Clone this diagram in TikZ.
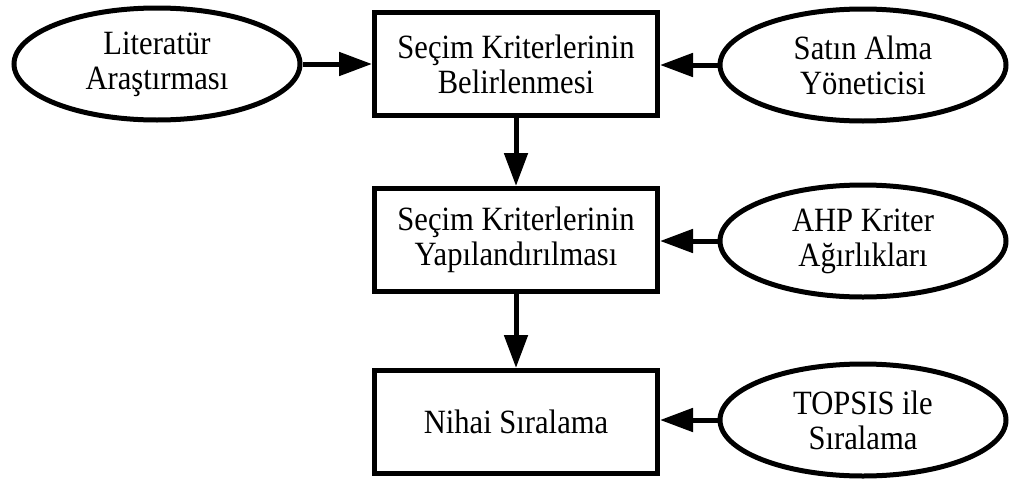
\documentclass[tikz,border=0pt]{standalone}
\usepackage{fontspec}
\setmainfont{Liberation Serif}[FakeStretch=0.9]
\usetikzlibrary{arrows.meta,shapes.geometric}
\begin{document}
\begin{tikzpicture}[x=1pt,y=-1pt,
  every node/.style={font=\fontsize{34}{35}\selectfont, align=center, inner sep=0pt},
  stepbox/.style={draw, line width=5pt, minimum width=283pt, minimum height=103pt},
  oval/.style={draw, ellipse, line width=5pt, minimum width=286pt, minimum height=112pt},
  conn/.style={line width=5pt, -{Triangle[length=33pt,width=23pt]}}
]
\useasboundingbox (0,0) rectangle (1010,482);
\node[stepbox] (b1) at (516,64) {Seçim Kriterlerinin\\Belirlenmesi};
\node[stepbox] (b2) at (516,240) {Seçim Kriterlerinin\\Yapılandırılması};
\node[stepbox] (b3) at (516,422) {Nihai Sıralama};
\node[oval] (e1) at (157,64) {Literatür\\Araştırması};
\node[oval] (e2) at (863,65) {Satın Alma\\Yöneticisi};
\node[oval] (e3) at (863,241) {AHP Kriter\\Ağırlıkları};
\node[oval] (e4) at (863,420) {TOPSIS ile\\Sıralama};
\draw[conn] (e1) -- (b1);
\draw[conn] (e2.west) -- (e2.west -| b1.east);
\draw[conn] (e3.west) -- (e3.west -| b2.east);
\draw[conn] (e4.west) -- (e4.west -| b3.east);
\draw[conn] (b1) -- (b2);
\draw[conn] (b2) -- (b3);
\end{tikzpicture}
\end{document}
